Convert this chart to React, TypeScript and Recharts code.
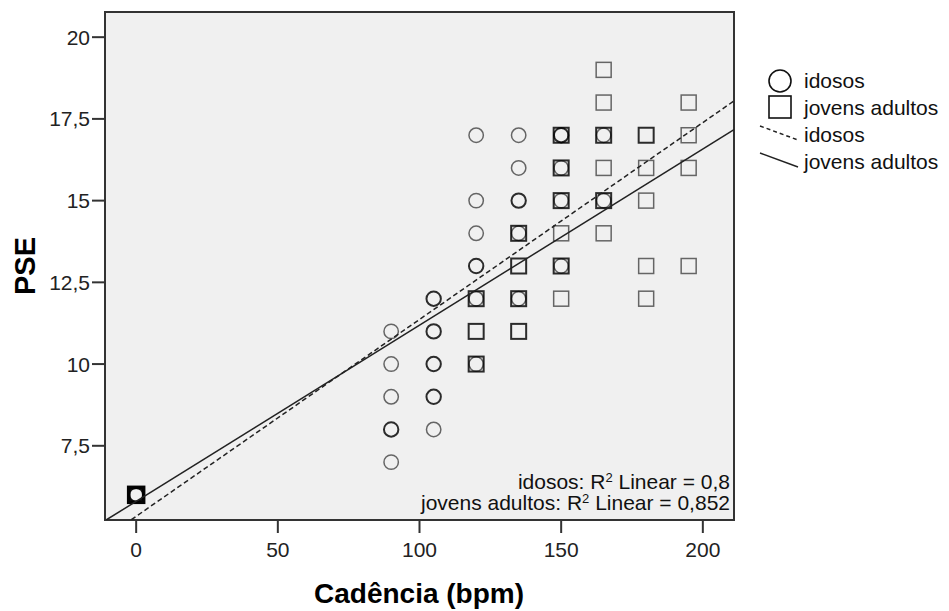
import React from 'react';
import {
  ScatterChart,
  Scatter,
  XAxis,
  YAxis,
  CartesianGrid,
  ReferenceArea,
} from 'recharts';

// observations: x = cadence (bpm), y = PSE, n = number of overlapping cases
const idosos = [
  { x: 0, y: 6, n: 3 },
  { x: 90, y: 7, n: 1 },
  { x: 90, y: 8, n: 2 },
  { x: 90, y: 9, n: 1 },
  { x: 90, y: 10, n: 1 },
  { x: 90, y: 11, n: 1 },
  { x: 105, y: 8, n: 1 },
  { x: 105, y: 9, n: 2 },
  { x: 105, y: 10, n: 2 },
  { x: 105, y: 11, n: 2 },
  { x: 105, y: 12, n: 2 },
  { x: 120, y: 10, n: 1 },
  { x: 120, y: 12, n: 1 },
  { x: 120, y: 13, n: 2 },
  { x: 120, y: 14, n: 1 },
  { x: 120, y: 15, n: 1 },
  { x: 120, y: 17, n: 1 },
  { x: 135, y: 12, n: 1 },
  { x: 135, y: 14, n: 1 },
  { x: 135, y: 15, n: 2 },
  { x: 135, y: 16, n: 1 },
  { x: 135, y: 17, n: 1 },
  { x: 150, y: 13, n: 1 },
  { x: 150, y: 15, n: 1 },
  { x: 150, y: 16, n: 1 },
  { x: 150, y: 17, n: 2 },
  { x: 165, y: 15, n: 1 },
  { x: 165, y: 17, n: 1 },
];

const jovensAdultos = [
  { x: 0, y: 6, n: 5 },
  { x: 120, y: 10, n: 2 },
  { x: 120, y: 11, n: 2 },
  { x: 120, y: 12, n: 2 },
  { x: 135, y: 11, n: 2 },
  { x: 135, y: 12, n: 2 },
  { x: 135, y: 13, n: 2 },
  { x: 135, y: 14, n: 2 },
  { x: 150, y: 12, n: 1 },
  { x: 150, y: 13, n: 2 },
  { x: 150, y: 14, n: 1 },
  { x: 150, y: 15, n: 2 },
  { x: 150, y: 16, n: 2 },
  { x: 150, y: 17, n: 2 },
  { x: 165, y: 14, n: 1 },
  { x: 165, y: 15, n: 2 },
  { x: 165, y: 16, n: 1 },
  { x: 165, y: 17, n: 2 },
  { x: 165, y: 18, n: 1 },
  { x: 165, y: 19, n: 1 },
  { x: 180, y: 12, n: 1 },
  { x: 180, y: 13, n: 1 },
  { x: 180, y: 15, n: 1 },
  { x: 180, y: 16, n: 1 },
  { x: 180, y: 17, n: 2 },
  { x: 195, y: 13, n: 1 },
  { x: 195, y: 16, n: 1 },
  { x: 195, y: 17, n: 1 },
  { x: 195, y: 18, n: 1 },
];

// fit line end points
const idososFit = [
  { x: -1.7, y: 5.24 },
  { x: 211, y: 18.05 },
];
const jovensFit = [
  { x: -10.6, y: 5.23 },
  { x: 211, y: 17.17 },
];

const xTicks = [0, 50, 100, 150, 200];
const yTicks = [7.5, 10, 12.5, 15, 17.5, 20];
const xDomain = [-11, 211];
const yDomain = [5.23, 20.77];

const FONT = 'Arial, "Liberation Sans", sans-serif';

// overlapping cases draw darker and thicker
const strokeFor = (n: number) => 1 - Math.pow(0.42, n);
const widthFor = (n: number) => Math.min(1.5 + 0.5 * (n - 1), 3.6);

const CircleMark = (props: any) => {
  const { cx, cy, payload } = props;
  if (cx == null || cy == null) return <g />;
  return (
    <circle
      cx={cx}
      cy={cy}
      r={7.2}
      fill="none"
      stroke="#000"
      strokeWidth={widthFor(payload.n)}
      strokeOpacity={strokeFor(payload.n)}
    />
  );
};

const SquareMark = (props: any) => {
  const { cx, cy, payload } = props;
  if (cx == null || cy == null) return <g />;
  return (
    <rect
      x={cx - 7.5}
      y={cy - 7.5}
      width={15}
      height={15}
      fill="none"
      stroke="#000"
      strokeWidth={widthFor(payload.n)}
      strokeOpacity={strokeFor(payload.n)}
    />
  );
};

const NoMark = () => <g />;

const fmt = (v: number) => String(v).replace('.', ',');

export default function App() {
  return (
    <div style={{ position: 'absolute', left: 0, top: 0, width: 949, height: 611, background: '#fff', fontFamily: FONT }}>
      <ScatterChart width={949} height={611} margin={{ top: 12, right: 215, bottom: 0, left: 0 }}>
        <CartesianGrid fill="#f0f0f0" stroke="none" />
        <XAxis
          type="number"
          dataKey="x"
          domain={xDomain}
          ticks={xTicks}
          allowDataOverflow
          height={91}
          tickSize={13}
          tickMargin={9}
          axisLine={{ stroke: '#333', strokeWidth: 2 }}
          tickLine={{ stroke: '#333', strokeWidth: 2 }}
          tick={{ fill: '#222', fontSize: 21, fontFamily: FONT }}
          label={{
            content: () => (
              <text x={419} y={603} textAnchor="middle" fontFamily={FONT} fontSize={28} fontWeight={700} fill="#000">
                Cadência (bpm)
              </text>
            ),
          }}
        />
        <YAxis
          type="number"
          dataKey="y"
          domain={yDomain}
          ticks={yTicks}
          allowDataOverflow
          width={105}
          tickSize={13}
          tickMargin={2}
          tickFormatter={fmt}
          axisLine={{ stroke: '#333', strokeWidth: 2 }}
          tickLine={{ stroke: '#333', strokeWidth: 2 }}
          tick={{ fill: '#222', fontSize: 21, fontFamily: FONT }}
          label={{
            content: () => (
              <text
                x={35}
                y={266}
                transform="rotate(-90 35 266)"
                textAnchor="middle"
                fontFamily={FONT}
                fontSize={29}
                fontWeight={700}
                fill="#000"
              >
                PSE
              </text>
            ),
          }}
        />
        <ReferenceArea
          x1={xDomain[0]}
          x2={xDomain[1]}
          y1={yDomain[0]}
          y2={yDomain[1]}
          fill="none"
          stroke="#333"
          strokeWidth={2}
          ifOverflow="visible"
        />
        <Scatter
          name="idosos"
          data={idosos}
          shape={CircleMark}
          isAnimationActive={false}
        />
        <Scatter
          name="jovens adultos"
          data={jovensAdultos}
          shape={SquareMark}
          isAnimationActive={false}
        />
        <Scatter
          name="idosos fit"
          data={idososFit}
          shape={NoMark}
          line={{ stroke: '#222', strokeWidth: 1.5, strokeDasharray: '5 3' }}
          isAnimationActive={false}
        />
        <Scatter
          name="jovens adultos fit"
          data={jovensFit}
          shape={NoMark}
          line={{ stroke: '#222', strokeWidth: 1.5 }}
          isAnimationActive={false}
        />
      </ScatterChart>

      {/* R² notes and legend */}
      <svg
        width={949}
        height={611}
        style={{ position: 'absolute', left: 0, top: 0, pointerEvents: 'none' }}
        fontFamily={FONT}
      >
        <text x={730} y={489} textAnchor="end" fontSize={21} fill="#111">
          idosos: R<tspan dy={-7} fontSize={13}>2</tspan>
          <tspan dy={7}> Linear = 0,8</tspan>
        </text>
        <text x={730} y={510} textAnchor="end" fontSize={21} fill="#111">
          jovens adultos: R<tspan dy={-7} fontSize={13}>2</tspan>
          <tspan dy={7}> Linear = 0,852</tspan>
        </text>

        <circle cx={780} cy={81} r={11} fill="none" stroke="#111" strokeWidth={1.6} />
        <rect x={769} y={96} width={22} height={22} fill="none" stroke="#111" strokeWidth={1.6} />
        <line x1={760} y1={126} x2={798} y2={140} stroke="#222" strokeWidth={1.5} strokeDasharray="4 3" />
        <line x1={760} y1={153} x2={798} y2={167} stroke="#222" strokeWidth={1.5} />
        <g fontSize={21} fill="#111">
          <text x={804} y={88}>idosos</text>
          <text x={804} y={115}>jovens adultos</text>
          <text x={804} y={142}>idosos</text>
          <text x={804} y={169}>jovens adultos</text>
        </g>
      </svg>
    </div>
  );
}
